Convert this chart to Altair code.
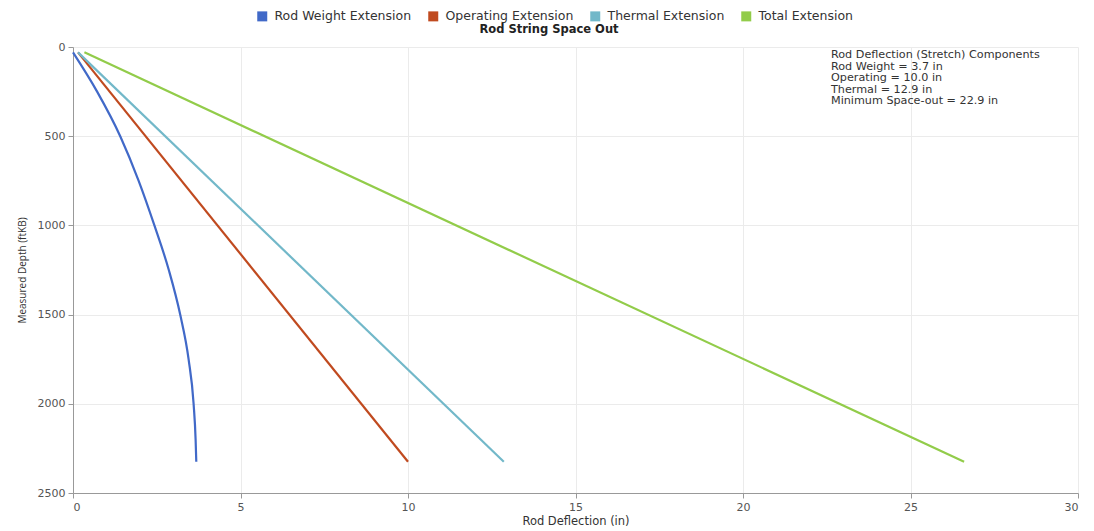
import altair as alt
import pandas as pd

series_names = ["Rod Weight Extension", "Operating Extension", "Thermal Extension", "Total Extension"]
series_colors = ["#4169C8", "#C04A1F", "#72B8C9", "#92CC4A"]

weight_depth = [30, 250, 500, 750, 1000, 1250, 1500, 1750, 2000, 2200, 2325]
weight_defl = [0, 0.72, 1.41, 1.96, 2.43, 2.86, 3.2, 3.45, 3.6, 3.66, 3.68]

operating_depth = [30, 2325]
operating_defl = [0.15, 10.0]

thermal_depth = [30, 2325]
thermal_defl = [0.15, 12.86]

total_depth = [30, 2325]
total_defl = [0.34, 26.6]

x_ticks = [0, 5, 10, 15, 20, 25, 30]
y_ticks = [0, 500, 1000, 1500, 2000, 2500]

note_lines = [
    "Rod Deflection (Stretch) Components",
    "Rod Weight = 3.7 in",
    "Operating = 10.0 in",
    "Thermal = 12.9 in",
    "Minimum Space-out = 22.9 in",
]

rows = []
for name, ds, xs in [
    (series_names[0], weight_depth, weight_defl),
    (series_names[1], operating_depth, operating_defl),
    (series_names[2], thermal_depth, thermal_defl),
    (series_names[3], total_depth, total_defl),
]:
    for i, (d, x) in enumerate(zip(ds, xs)):
        rows.append({"series": name, "depth": d, "defl": x, "order": i})
df = pd.DataFrame(rows)

FONT = "DejaVu Sans"

lines = alt.Chart(df).mark_line(strokeWidth=2.2, interpolate="monotone").encode(
    x=alt.X("defl:Q", scale=alt.Scale(domain=[0, 30], nice=False),
            axis=alt.Axis(values=x_ticks, title="Rod Deflection (in)")),
    y=alt.Y("depth:Q", scale=alt.Scale(domain=[0, 2500], reverse=True, nice=False),
            axis=alt.Axis(values=y_ticks, format="d", title="Measured Depth (ftKB)")),
    color=alt.Color("series:N",
                    scale=alt.Scale(domain=series_names, range=series_colors),
                    legend=alt.Legend(orient="none", direction="horizontal",
                                      legendX=183, legendY=-37, title=None,
                                      symbolType="square", symbolSize=25,
                                      symbolStrokeWidth=5, labelFontSize=12.5,
                                      labelFont=FONT, labelColor="#333333",
                                      columnPadding=8, labelOffset=6, symbolOffset=0)),
    order="order:Q",
    detail="series:N",
)

title = alt.Chart(pd.DataFrame({"t": ["Rod String Space Out"]})).mark_text(
    fontSize=11.5, fontWeight="bold", font=FONT, color="#222222", align="center", baseline="middle"
).encode(text="t:N", x=alt.value(476), y=alt.value(-17))

note = alt.Chart(pd.DataFrame({"t": [0]})).mark_text(
    fontSize=11.2, font=FONT, color="#333333", align="left", baseline="top", lineHeight=11.6
).encode(text=alt.value(note_lines), x=alt.value(758), y=alt.value(2))

chart = alt.layer(lines, title, note).properties(
    width=1005, height=446,
    autosize=alt.AutoSizeParams(type="none"),
    padding={"left": 65, "top": 39, "right": 8, "bottom": 37},
).configure_view(stroke=None).configure_axis(
    labelFont=FONT, titleFont=FONT, labelColor="#555555", titleColor="#333333",
    labelFontSize=11, titleFontWeight="normal", gridColor="#ebebeb",
    domainColor="#999999", tickColor="#999999", tickSize=5,
).configure_axisX(titleFontSize=11.5, titlePadding=3, labelPadding=3
).configure_axisY(titleFont="Open Sans", titleFontSize=10, titlePadding=10, labelPadding=3)

chart.save("out.html", embed_options={"renderer": "svg", "actions": False})
